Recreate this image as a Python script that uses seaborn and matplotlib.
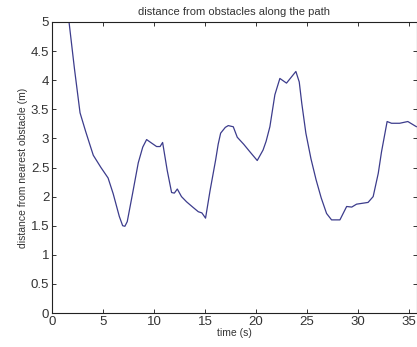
import matplotlib
matplotlib.use("Agg")
import matplotlib.pyplot as plt
import seaborn as sns
import pandas as pd

time_s = [1.3, 1.67, 2.2, 2.75, 3.3, 3.7, 4.05, 4.8, 5.5, 6.0, 6.6, 6.93, 7.15, 7.38, 7.9, 8.46,
          8.9, 9.28, 9.6, 10.26, 10.6, 10.85, 11.3, 11.73, 12.0, 12.29, 12.7, 13.2, 13.8,
          14.35, 14.7, 15.06, 15.5, 16.05, 16.3, 16.54, 17.0, 17.29, 17.78, 18.17, 18.8,
          19.41, 20.13, 20.7, 21.0, 21.37, 21.86, 22.35, 23.0, 23.92, 24.25, 24.5, 24.9,
          25.4, 25.9, 26.4, 26.93, 27.42, 28.24, 28.9, 29.4, 29.87, 31.0, 31.5, 32.0,
          32.32, 32.87, 33.3, 34.1, 34.9, 35.75]
distance_m = [5.6, 5.0, 4.2, 3.44, 3.12, 2.9, 2.71, 2.5, 2.32, 2.05, 1.66, 1.5, 1.49, 1.57,
              2.05, 2.58, 2.85, 2.98, 2.94, 2.86, 2.86, 2.93, 2.45, 2.07, 2.06, 2.13, 2.0,
              1.91, 1.82, 1.74, 1.72, 1.63, 2.1, 2.63, 2.9, 3.09, 3.19, 3.22, 3.2, 3.02,
              2.9, 2.77, 2.62, 2.8, 2.95, 3.2, 3.75, 4.03, 3.95, 4.15, 3.97, 3.6, 3.09,
              2.65, 2.29, 1.98, 1.71, 1.60, 1.60, 1.83, 1.82, 1.87, 1.90, 2.0, 2.4,
              2.77, 3.29, 3.26, 3.26, 3.29, 3.2]

df = pd.DataFrame({"t": time_s, "d": distance_m})

sns.set_style("white")
plt.rcParams['font.family'] = ['Liberation Sans', 'DejaVu Sans']

fig = plt.figure(figsize=(4.17, 3.47), dpi=100)
ax = fig.add_axes([52/417, 1-313/347, 365/417, 291/347])
sns.lineplot(data=df, x="t", y="d", ax=ax, color="#3c3c8c", linewidth=0.9, estimator=None, sort=False)

ax.set_xlim(0, 35.8)
ax.set_ylim(0, 5)
ax.set_xticks([0, 5, 10, 15, 20, 25, 30, 35])
ax.set_yticks([0, 0.5, 1, 1.5, 2, 2.5, 3, 3.5, 4, 4.5, 5])
ax.set_yticklabels(["0", "0.5", "1", "1.5", "2", "2.5", "3", "3.5", "4", "4.5", "5"])
ax.tick_params(direction="in", length=3, width=0.7, labelsize=9.5, colors="#333333",
               top=True, right=True, bottom=True, left=True, pad=2)
for s in ax.spines.values():
    s.set_color("#222222")
    s.set_linewidth(0.8)
ax.set_xlabel("time (s)", fontsize=7.5, color="#333333", labelpad=0)
ax.set_ylabel("distance from nearest obstacle (m)", fontsize=7.5, color="#333333", labelpad=2)
ax.set_title("distance from obstacles along the path", fontsize=8, color="#333333", pad=5)

fig.savefig("out.png", dpi=100, facecolor="white")
